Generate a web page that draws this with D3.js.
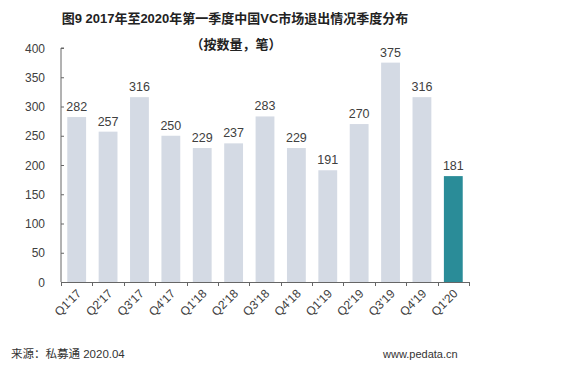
<!DOCTYPE html>
<meta charset="utf-8">
<head>
<title>VC exits by quarter</title>
<script src="https://cdnjs.cloudflare.com/ajax/libs/d3/7.8.5/d3.min.js"></script>
<style type="text/css">
body {margin: 0; background: #fff;}
text {font-family: "Liberation Sans", Arial, "Noto Sans CJK SC", sans-serif;}
.cn {font-family: "Liberation Sans", "Noto Sans CJK SC", sans-serif;}
</style>
</head>
<body>
<script>
// Data
var quarters = ["Q1'17","Q2'17","Q3'17","Q4'17","Q1'18","Q2'18","Q3'18","Q4'18","Q1'19","Q2'19","Q3'19","Q4'19","Q1'20"];
var exits    = [282, 257, 316, 250, 229, 237, 283, 229, 191, 270, 375, 316, 181];
var yTicks   = [0, 50, 100, 150, 200, 250, 300, 350, 400];

var width = 569, height = 378;

var svg = d3.select("body").append("svg")
  .attr("width", width)
  .attr("height", height);

var x = d3.scaleBand()
  .domain(quarters)
  .range([61, 469])
  .paddingInner(0.4)
  .paddingOuter(0.2);

var y = d3.scaleLinear()
  .domain([0, 400])
  .range([282, 48]);

// title
svg.append("text")
  .attr("class", "cn")
  .attr("x", 235).attr("y", 23)
  .attr("text-anchor", "middle")
  .style("font-size", "13px").style("font-weight", "bold").style("fill", "#222")
  .text("图9 2017年至2020年第一季度中国VC市场退出情况季度分布");
svg.append("text")
  .attr("class", "cn")
  .attr("x", 236).attr("y", 49)
  .attr("text-anchor", "middle")
  .style("font-size", "13px").style("font-weight", "bold").style("fill", "#222")
  .text("（按数量，笔）");

// bars
svg.selectAll("rect.bar")
  .data(quarters)
  .enter().append("rect")
  .attr("class", "bar")
  .attr("x", d => x(d))
  .attr("width", x.bandwidth())
  .attr("y", (d, i) => y(exits[i]))
  .attr("height", (d, i) => y(0) - y(exits[i]))
  .style("fill", (d, i) => i === quarters.length - 1 ? "#2a8c98" : "#d4dae4");

// value labels
svg.selectAll("text.val")
  .data(quarters)
  .enter().append("text")
  .attr("class", "val")
  .attr("x", d => x(d) + x.bandwidth() / 2)
  .attr("y", (d, i) => y(exits[i]) - 6)
  .attr("text-anchor", "middle")
  .style("font-size", "12.5px").style("fill", "#404040")
  .text((d, i) => exits[i]);

// y axis
var yAxis = svg.append("g")
  .attr("transform", "translate(61,0)")
  .call(d3.axisRight(y).tickValues(yTicks).tickSize(3).tickFormat(""));
yAxis.select(".domain").attr("d", "M3,48H0V282H0").style("stroke", "#666");
yAxis.selectAll(".tick line").style("stroke", "#666");

svg.selectAll("text.ylab")
  .data(yTicks)
  .enter().append("text")
  .attr("class", "ylab")
  .attr("x", 45)
  .attr("y", d => y(d) + 4.5)
  .attr("text-anchor", "end")
  .style("font-size", "12px").style("fill", "#404040")
  .text(d => d);

// x axis
var bounds = d3.range(quarters.length + 1).map(i => 61 + i * (408 / quarters.length));
svg.append("line")
  .attr("x1", 61).attr("x2", 469)
  .attr("y1", 282.5).attr("y2", 282.5)
  .style("stroke", "#666");
svg.selectAll("line.xt")
  .data(bounds)
  .enter().append("line")
  .attr("class", "xt")
  .attr("x1", d => Math.round(d) + 0.5).attr("x2", d => Math.round(d) + 0.5)
  .attr("y1", 282).attr("y2", 286)
  .style("stroke", "#666");

svg.selectAll("text.xlab")
  .data(quarters)
  .enter().append("text")
  .attr("class", "xlab")
  .attr("transform", d => "translate(" + (x(d) + x.bandwidth() / 2 + 1) + ",290) rotate(-45)")
  .attr("text-anchor", "end")
  .attr("dy", "0.5em")
  .style("font-size", "12px").style("fill", "#404040")
  .text(d => d);

// footer
svg.append("text")
  .attr("class", "cn")
  .attr("x", 11).attr("y", 358)
  .style("font-size", "11.5px").style("fill", "#333")
  .text("来源：私募通 2020.04");
svg.append("text")
  .attr("x", 383).attr("y", 358)
  .style("font-size", "11px").style("fill", "#333")
  .text("www.pedata.cn");
</script>
</body>
